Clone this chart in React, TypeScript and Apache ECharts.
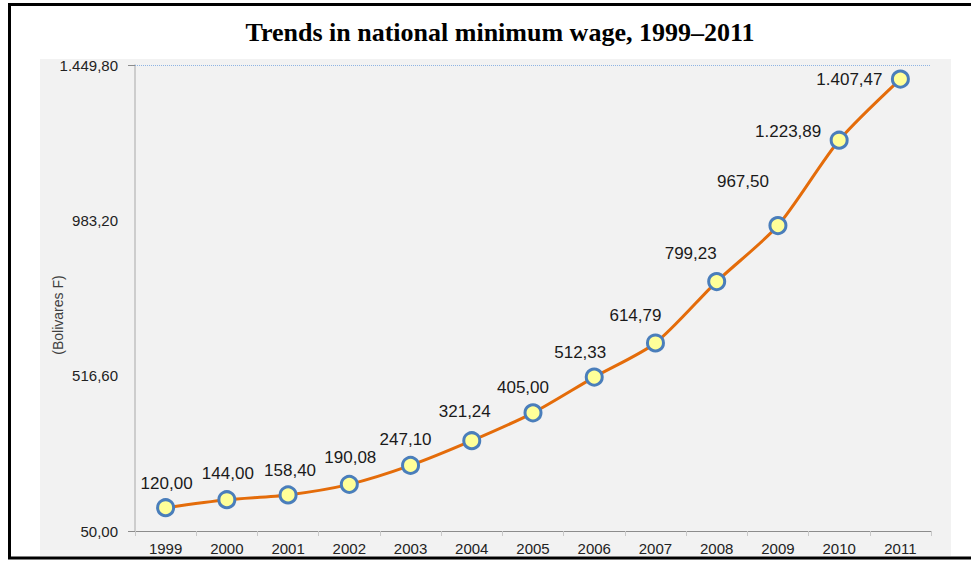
import React, { useEffect, useRef } from "react";
import * as echarts from "echarts";

const years = ["1999", "2000", "2001", "2002", "2003", "2004", "2005", "2006", "2007", "2008", "2009", "2010", "2011"];
const wages = [120.0, 144.0, 158.4, 190.08, 247.1, 321.24, 405.0, 512.33, 614.79, 799.23, 967.5, 1223.89, 1407.47];
const yTicks = [50.0, 516.6, 983.2, 1449.8];
const labelOffsets = [
  [1, -24], [1, -26], [2, -24], [1, -27], [-5, -26], [-7, -29], [-10, -25],
  [-14, -25], [-20, -27], [-26, -28], [-35, -44], [-51, -9], [-51, 0],
];

function fmt(v: number): string {
  const fixed = Math.abs(v).toFixed(2);
  const [intPart, dec] = fixed.split(".");
  const withSep = intPart.replace(/\B(?=(\d{3})+(?!\d))/g, ".");
  return (v < 0 ? "-" : "") + withSep + "," + dec;
}

export default function App() {
  const ref = useRef<HTMLDivElement>(null);
  useEffect(() => {
    if (!ref.current) return;
    const chart = echarts.init(ref.current, null, { renderer: "svg" });
    chart.setOption({
      animation: false,
      backgroundColor: "#ffffff",
      title: {
        text: "Trends in national minimum wage, 1999–2011",
        left: 495,
        top: 14,
        textAlign: "center",
        textStyle: {
          fontFamily: "Liberation Serif",
          fontWeight: "bold",
          fontSize: 26,
          color: "#000000",
        },
      },
      graphic: [
        {
          type: "rect",
          z: -10,
          shape: { x: 9.5, y: 4.5, width: 1100, height: 553.5 },
          style: { fill: "#ffffff", stroke: "#000000", lineWidth: 3 },
        },
        {
          type: "rect",
          z: -9,
          shape: { x: 40, y: 59, width: 911, height: 497 },
          style: { fill: "#f2f2f2" },
        },
        {
          type: "text",
          x: 58,
          y: 315,
          rotation: Math.PI / 2,
          style: {
            text: "(Bolivares F)",
            fontFamily: "Liberation Sans",
            fontSize: 14,
            fill: "#404040",
            textAlign: "center",
            textVerticalAlign: "middle",
          },
        },
      ],
      grid: { left: 135, right: 40, top: 65, bottom: 30, containLabel: false },
      xAxis: {
        type: "category",
        data: years,
        boundaryGap: true,
        axisLine: { lineStyle: { color: "#8c8c8c", width: 1 } },
        axisTick: { show: true, interval: 0, length: 5, lineStyle: { color: "#c8c8c8" } },
        axisLabel: {
          interval: 0,
          margin: 10,
          fontFamily: "Liberation Sans",
          fontSize: 15,
          color: "#222222",
        },
        splitLine: { show: false },
      },
      yAxis: {
        type: "value",
        min: yTicks[0],
        max: yTicks[yTicks.length - 1],
        axisLine: { show: true, lineStyle: { color: "#c0c0c0", width: 1.5 } },
        axisTick: {
          show: true,
          customValues: [yTicks[0], yTicks[yTicks.length - 1]],
          length: 7,
          lineStyle: { color: "#8c8c8c" },
        },
        axisLabel: {
          customValues: yTicks,
          formatter: (v: number) => fmt(v),
          margin: 17,
          fontFamily: "Liberation Sans",
          fontSize: 15,
          color: "#222222",
        },
        splitLine: { show: false },
      },
      series: [
        {
          type: "line",
          data: wages.map((v, i) => ({
            value: v,
            label: { offset: labelOffsets[i] },
          })),
          smooth: 0.25,
          lineStyle: { color: "#e46c0a", width: 3 },
          symbol: "circle",
          symbolSize: 16,
          itemStyle: { color: "#ffff99", borderColor: "#4a7ebb", borderWidth: 3 },
          label: {
            show: true,
            position: "inside",
            formatter: (p: any) => fmt(p.value),
            fontFamily: "Liberation Sans",
            fontSize: 17,
            color: "#1a1a1a",
          },
          markLine: {
            silent: true,
            symbol: ["none", "none"],
            label: { show: false },
            lineStyle: { color: "#8eb4e3", type: "dotted", width: 1 },
            data: [{ yAxis: yTicks[yTicks.length - 1] }],
          },
          z: 3,
        },
      ],
    });
    return () => chart.dispose();
  }, []);
  return (
    <div
      ref={ref}
      style={{ position: "absolute", left: 0, top: 0, width: 971, height: 561 }}
    />
  );
}
